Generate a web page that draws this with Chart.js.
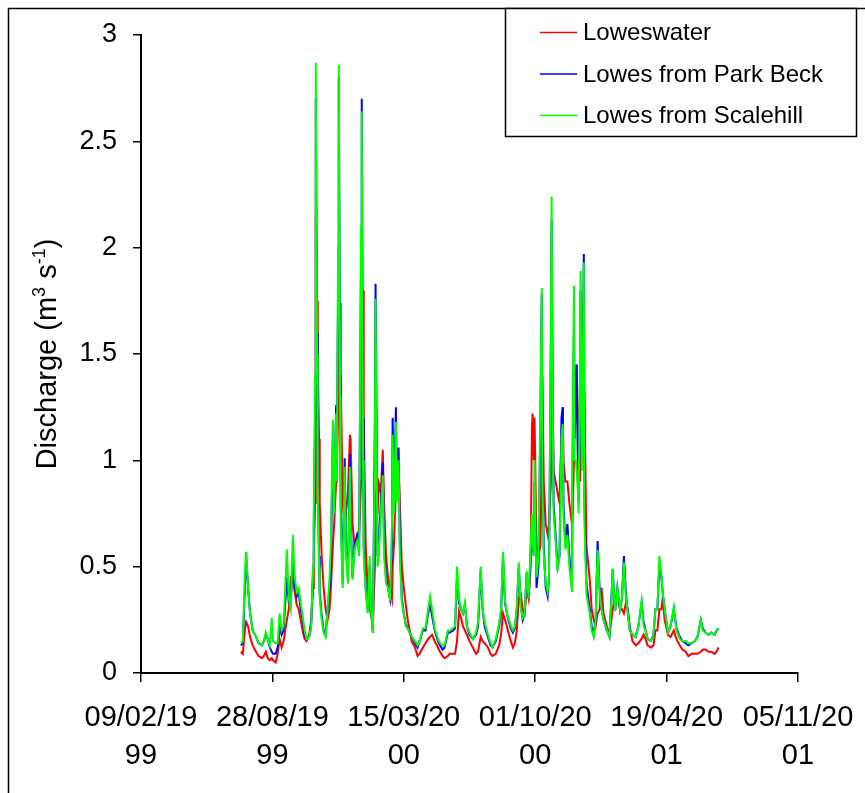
<!DOCTYPE html>
<html><head><meta charset="utf-8">
<script src="https://cdn.jsdelivr.net/npm/chart.js@4.4.1/dist/chart.umd.min.js"></script>
<style>html,body{margin:0;padding:0;background:#fff;}#wrap{position:relative;width:865px;height:793px;}</style>
</head><body><div id="wrap"><canvas id="c" width="865" height="793"></canvas></div>
<script>
// x values: days since 09/02/1999
const tickDays = [0, 200, 400, 600, 800, 1000];
const tickLabels = [["09/02/19","99"],["28/08/19","99"],["15/03/20","00"],["01/10/20","00"],["19/04/20","01"],["05/11/20","01"]];
const seriesNames = ["Loweswater", "Lowes from Park Beck", "Lowes from Scalehill"];
const seriesColors = ["#FF0000", "#0000FF", "#00FF00"];

const days = [
152,155,158,160,163,166,170,175,179,184,
187,190,193,196,199,201,205,208,211,214,
217,222,225,228,231,234,237,240,243,246,
249,252,256,259,262,263,265,266,268,269,
271,272,275,278,281,284,287,289,292,294,
297,298,300,301,303,304,307,310,312,315,
318,319,322,325,329,332,335,336,338,339,
342,345,348,350,353,356,357,359,360,362,
365,368,370,373,376,379,382,383,385,388,
389,392,394,397,400,403,406,409,412,417,
421,424,429,433,437,440,443,447,452,455,
459,462,467,470,475,478,481,484,487,490,
493,496,500,505,510,513,517,520,523,528,
532,535,540,545,548,551,554,557,560,563,
566,569,572,575,578,581,584,587,590,593,
595,596,598,599,601,602,605,608,610,611,
613,616,619,621,624,625,627,628,631,634,
637,640,642,643,646,649,652,656,657,659,
660,662,663,665,666,668,669,671,672,674,
675,678,683,686,689,692,695,698,701,704,
709,713,716,718,721,722,725,729,732,735,
738,741,744,748,753,757,762,765,768,771,
776,780,783,786,789,792,794,797,802,806,
811,815,820,824,829,833,838,843,847,852,
855,859,864,868,873,876,879];

const loweswater = [
.10,.09,.20,.24,.22,.17,.13,.10,.08,.07,
.08,.10,.07,.06,.07,.06,.05,.09,.16,.12,
.15,.25,.30,.45,.44,.38,.32,.30,.25,.20,
.16,.15,.18,.25,.40,.55,.80,2.15,1.75,1.50,
1.10,.80,.55,.40,.30,.25,.30,.40,.60,.70,
.90,.95,1.20,1.60,1.74,1.40,.80,.70,.75,.85,
1.12,1.10,.70,.60,.62,.65,.90,1.50,1.80,1.20,
.60,.40,.30,.28,.23,.50,.80,.90,.75,.89,
.85,1.05,.80,.55,.45,.40,.35,.50,.60,.90,
.95,1.00,.80,.50,.40,.32,.25,.20,.15,.12,
.08,.09,.12,.14,.16,.17,.18,.15,.12,.10,
.08,.07,.08,.09,.09,.09,.15,.29,.26,.22,
.20,.18,.15,.12,.09,.10,.17,.15,.14,.12,
.09,.08,.09,.13,.18,.28,.25,.22,.18,.15,
.12,.14,.20,.35,.37,.30,.28,.40,.35,.50,
1.15,1.22,1.00,1.20,.80,.60,.55,.60,1.00,1.40,
.90,.70,.65,.70,.90,1.40,1.20,.95,.90,.85,
.80,1.10,1.25,1.00,.90,.90,.80,.70,.75,1.00,
1.20,1.40,1.45,1.20,.95,.90,1.00,1.20,1.30,1.40,
1.30,.60,.44,.30,.25,.22,.28,.30,.40,.28,
.22,.18,.25,.30,.35,.32,.38,.30,.30,.28,
.33,.30,.22,.15,.13,.14,.16,.18,.16,.13,
.12,.13,.20,.20,.30,.30,.35,.25,.18,.17,
.20,.16,.13,.11,.10,.08,.09,.09,.09,.10,
.11,.11,.10,.10,.09,.10,.12];

const parkBeck = [
.13,.14,.40,.55,.40,.28,.20,.17,.14,.13,
.15,.18,.16,.12,.10,.09,.09,.12,.22,.18,
.20,.45,.33,.32,.55,.42,.36,.38,.30,.25,
.18,.16,.17,.22,.50,.70,1.20,2.70,1.60,.95,
.55,.38,.27,.20,.18,.30,.40,.50,1.10,.80,
1.26,1.00,1.80,2.80,1.40,.80,.42,1.01,.60,.45,
1.03,.75,.45,.60,.65,.60,2.00,2.70,1.20,.60,
.40,.30,.50,.30,.19,1.20,1.83,1.00,.55,.60,
.80,.99,.60,.45,.40,.35,.60,1.20,.80,1.25,
.90,1.06,.60,.35,.28,.23,.21,.19,.17,.14,
.12,.15,.20,.20,.28,.32,.27,.20,.15,.13,
.11,.12,.19,.19,.20,.21,.45,.33,.30,.28,
.32,.22,.18,.16,.18,.22,.48,.30,.22,.17,
.13,.12,.15,.22,.28,.55,.33,.28,.24,.21,
.19,.21,.30,.50,.32,.25,.28,.47,.35,.55,
.70,.60,.55,.90,.60,.40,.50,1.20,1.78,1.00,
.60,.40,.36,.45,1.60,2.13,1.20,.80,.65,.50,
.55,1.20,1.25,.80,.60,.70,.55,.40,1.00,1.60,
1.10,1.30,1.45,.95,.80,1.20,1.80,1.00,1.40,1.97,
.80,.42,.30,.22,.18,.25,.62,.40,.30,.25,
.20,.17,.35,.49,.30,.30,.40,.30,.35,.55,
.38,.28,.20,.18,.17,.22,.33,.24,.20,.16,
.15,.18,.30,.30,.52,.45,.38,.30,.19,.22,
.30,.21,.17,.15,.14,.13,.14,.15,.17,.25,
.21,.19,.18,.19,.18,.20,.21];

const scalehill = [
.14,.15,.45,.57,.40,.28,.20,.17,.14,.13,
.15,.19,.16,.13,.26,.15,.14,.14,.28,.20,
.22,.58,.35,.30,.65,.45,.38,.40,.33,.27,
.20,.16,.17,.22,.50,.75,1.40,2.87,1.50,.90,
.50,.35,.25,.19,.17,.30,.45,.60,1.19,.75,
1.22,.90,2.00,2.86,1.30,.70,.40,.97,.55,.42,
.97,.70,.44,.58,.62,.55,2.10,2.64,1.00,.55,
.38,.28,.55,.30,.19,1.10,1.76,.90,.50,.55,
.75,.93,.55,.42,.40,.34,.70,1.12,.75,1.18,
.80,1.00,.55,.33,.28,.22,.21,.19,.17,.15,
.13,.15,.21,.21,.30,.36,.30,.21,.16,.14,
.13,.13,.20,.20,.21,.22,.50,.35,.30,.28,
.33,.22,.19,.16,.19,.24,.50,.30,.24,.18,
.14,.12,.16,.23,.30,.57,.34,.28,.25,.22,
.20,.22,.31,.52,.31,.26,.28,.48,.35,.60,
.75,.62,.55,1.00,.55,.45,.55,1.30,1.81,.90,
.55,.42,.38,.45,1.70,2.24,1.10,.75,.62,.48,
.55,1.10,1.17,.75,.58,.65,.50,.38,1.20,1.82,
1.00,1.00,.95,.85,.75,1.40,1.89,.95,1.30,1.93,
.70,.37,.28,.20,.17,.25,.58,.38,.30,.25,
.20,.17,.35,.49,.30,.30,.40,.30,.35,.52,
.36,.28,.20,.18,.17,.22,.34,.22,.20,.16,
.15,.18,.30,.30,.55,.47,.38,.30,.19,.22,
.31,.20,.16,.15,.15,.14,.14,.15,.17,.25,
.20,.19,.18,.19,.18,.20,.21];

const FONT = "'Liberation Sans', Arial, sans-serif";
const seriesValues = [loweswater, parkBeck, scalehill];

const framePlugin = {
  id: 'frame',
  afterDraw(chart) {
    const ctx = chart.ctx;
    ctx.save();
    ctx.strokeStyle = '#000';
    ctx.lineWidth = 1.5;
    ctx.beginPath();
    ctx.moveTo(8.5, 900); ctx.lineTo(8.5, 8.5); ctx.lineTo(900, 8.5);
    ctx.stroke();
    // legend box
    const lx = 505.5, ly = 8.5, lw = 351, lh = 128;
    ctx.fillStyle = '#fff';
    ctx.fillRect(lx, ly, lw, lh);
    ctx.strokeRect(lx, ly, lw, lh);
    ctx.font = '24px ' + FONT;
    ctx.textBaseline = 'middle';
    ctx.textAlign = 'left';
    chart.data.datasets.forEach((ds, i) => {
      const y = 32.5 + i * 41.5;
      ctx.strokeStyle = ds.borderColor;
      ctx.lineWidth = 1.5;
      ctx.beginPath(); ctx.moveTo(540, y); ctx.lineTo(577, y); ctx.stroke();
      ctx.fillStyle = '#000';
      ctx.fillText(ds.label, 583, y + 1);
    });
    // y axis title with superscripts
    const parts = [["Discharge (m", 29, 0], ["3", 18, -11], [" s", 29, 0], ["-1", 18, -11], [")", 29, 0]];
    let total = 0;
    parts.forEach(p => { ctx.font = p[1] + 'px ' + FONT; total += ctx.measureText(p[0]).width; });
    ctx.translate(45, (chart.chartArea.top + chart.chartArea.bottom) / 2);
    ctx.rotate(-Math.PI / 2);
    ctx.fillStyle = '#000';
    ctx.textBaseline = 'alphabetic';
    let x = -total / 2;
    parts.forEach(p => {
      ctx.font = p[1] + 'px ' + FONT;
      ctx.fillText(p[0], x, 11 + p[2]);
      x += ctx.measureText(p[0]).width;
    });
    ctx.restore();
  }
};

new Chart(document.getElementById('c'), {
  type: 'line',
  data: {
    datasets: seriesNames.map((name, k) => ({
      label: name,
      data: days.map((d, i) => ({ x: d, y: seriesValues[k][i] })),
      borderColor: seriesColors[k],
      backgroundColor: seriesColors[k],
      borderWidth: 2,
      pointRadius: 0,
      tension: 0,
      fill: false,
      order: 2 - k
    }))
  },
  options: {
    responsive: false,
    animation: false,
    devicePixelRatio: 1,
    layout: { padding: { left: 8, top: 35, right: 67, bottom: 0 } },
    plugins: { legend: { display: false }, tooltip: { enabled: false } },
    scales: {
      x: {
        type: 'linear', min: 0, max: 1000,
        afterBuildTicks: s => { s.ticks = tickDays.map(v => ({ value: v })); },
        afterFit: s => { s.height = 120; s.paddingLeft = 0; s.paddingRight = 0; },
        grid: { display: true, drawOnChartArea: false, drawTicks: true, tickLength: 9, color: '#000', lineWidth: 1.5 },
        border: { display: true, color: '#000', width: 2 },
        ticks: {
          autoSkip: false, maxRotation: 0, minRotation: 0, padding: 17,
          color: '#000', font: { family: FONT, size: 29, lineHeight: 1.3 },
          callback: (v, i) => tickLabels[i]
        }
      },
      y: {
        min: 0, max: 3,
        afterFit: s => { s.width = 133; s.paddingTop = 0; s.paddingBottom = 0; },
        grid: { display: true, drawOnChartArea: false, drawTicks: true, tickLength: 8, color: '#000', lineWidth: 1.5 },
        border: { display: true, color: '#000', width: 2 },
        ticks: {
          stepSize: 0.5, padding: 16, color: '#000',
          font: { family: FONT, size: 27 },
          callback: v => String(v)
        }
      }
    }
  },
  plugins: [framePlugin]
});
</script></body></html>
